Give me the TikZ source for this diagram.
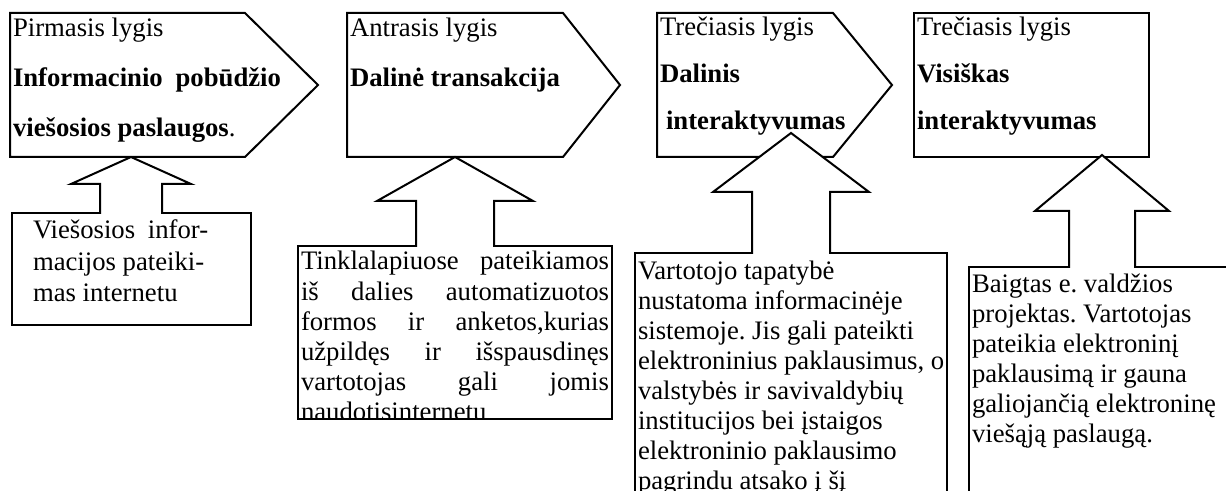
\documentclass[tikz,border=0pt]{standalone}
\usepackage{fontspec}
\setmainfont{Liberation Serif}
\frenchspacing
\newcommand{\jl}[1]{\makebox[154pt][s]{\spaceskip=0pt\relax #1}}

\begin{document}
\begin{tikzpicture}[x=0.5pt, y=-0.5pt, line width=1pt,
  every node/.style={execute at begin node={\spaceskip=0pt\xspaceskip=0pt\relax}},
  lvl/.style={anchor=base west, inner sep=0pt, text width=150pt, align=left, font=\fontsize{13.35}{25}\selectfont},
  lvltight/.style={lvl, font=\fontsize{13.35}{23.3}\selectfont},
  note/.style={anchor=base west, inner sep=0pt, text width=170pt, align=left, font=\fontsize{13.35}{15}\selectfont}]
\useasboundingbox (0,0) rectangle (1226,491);
\clip (0,0) rectangle (1226,491);

\draw (10,13) -- (245,13) -- (318,85) -- (245,157) -- (10,157) -- cycle;
\draw (347,13) -- (563,13) -- (620,85) -- (563,157) -- (347,157) -- cycle;
\draw (657,13) -- (833,13) -- (892,85) -- (833,157) -- (657,157) -- cycle;
\draw (914,13) rectangle (1149,157);

\draw (12,213) rectangle (251,325);
\draw (298,246) rectangle (612,419);
\draw (635,253) rectangle (947,520);
\draw (969,267) rectangle (1240,520);

\foreach \tx/\ty/\hy/\hw/\sw/\by in {131/157/184/60/31/213, 455/157/201/78/39/246,
    791/133/192/78/39/253, 1102/155/211/67/33/267}
    \draw[fill=white] (\tx-\sw,\by+1) -- (\tx-\sw,\hy) -- (\tx-\hw,\hy) -- (\tx,\ty)
        -- (\tx+\hw,\hy) -- (\tx+\sw,\hy) -- (\tx+\sw,\by+1);

\node[lvl, text width=134pt] (lvl1) at (12,37) {Pirmasis lygis\\ \textbf{Informacinio\hfill pobūdžio}\\ \textbf{viešosios paslaugos}.};
\node[lvl] (lvl2) at (349,37) {Antrasis lygis\\ \textbf{Dalinė transakcija}};
\node[lvltight] (lvl3) at (659,36) {Trečiasis lygis\\ \textbf{Dalinis}\\ \hspace*{3pt}\textbf{interaktyvumas}};
\node[lvltight] (lvl4) at (916,36) {Trečiasis lygis\\ \textbf{Visiškas}\\ \textbf{interaktyvumas}};

\node[note, font=\fontsize{13.35}{15.75}\selectfont] (box1) at (32,239) {Viešosios\hspace{3pt} infor-\\ macijos pateiki-\\ mas internetu};
\begin{scope}
\clip (298,246) rectangle (612,419);
\node[note, font=\fontsize{13.35}{15.1}\selectfont, text width=154pt] (box2) at (300,270) {\jl{Tinklalapiuose pateikiamos}\\ \jl{iš dalies automatizuotos}\\ \jl{formos ir anketos,kurias}\\ \jl{užpildęs ir išspausdinęs}\\ \jl{vartotojas gali jomis}\\ naudotisinternetu};
\end{scope}
\node[note] (box3) at (637,280) {Vartotojo tapatybė\\ nustatoma informacinėje\\ sistemoje. Jis gali pateikti\\ elektroninius paklausimus, o\\ valstybės ir savivaldybių\\ institucijos bei įstaigos\\ elektroninio paklausimo\\ pagrindu atsako į šį};
\node[note] (box4) at (971,293) {Baigtas e. valdžios\\ projektas. Vartotojas\\ pateikia elektroninį\\ paklausimą ir gauna\\ galiojančią elektroninę\\ viešąją paslaugą.};
\end{tikzpicture}
\end{document}
